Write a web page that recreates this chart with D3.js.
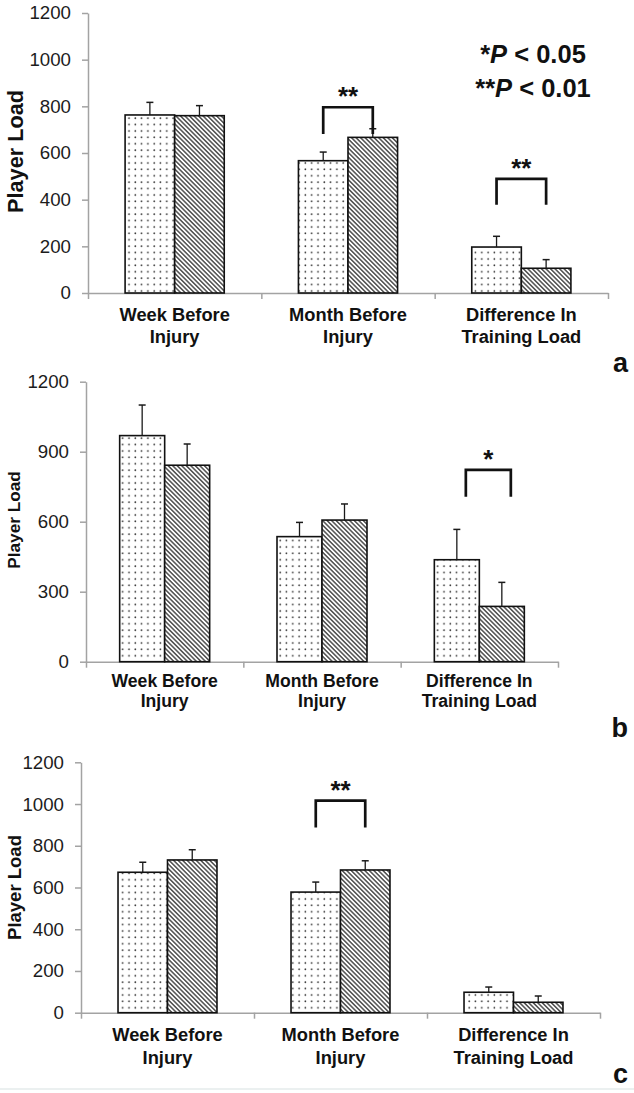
<!DOCTYPE html>
<html>
<head>
<meta charset="utf-8">
<script src="https://cdn.jsdelivr.net/npm/d3@7"></script>
<style>
  html, body { margin: 0; padding: 0; background: #fff; }
  svg { display: block; }
</style>
</head>
<body>
<svg id="chart" width="634" height="1093"></svg>
<script>
// ---------------- DATA ----------------
const catLine1 = ["Week Before", "Month Before", "Difference In"];
const catLine2 = ["Injury", "Injury", "Training Load"];
const seriesNames = ["dotted", "hatched"];

// Panel a
const aDotted = [763, 567, 197];
const aDottedErr = [54, 37, 46];
const aHatched = [760, 667, 106];
const aHatchedErr = [43, 37, 37];
const aTicks = [0, 200, 400, 600, 800, 1000, 1200];
const aSigCat = [1, 2];
const aSigLabel = ["**", "**"];
const aSigTop = [796, 489];
const aSigBottom = [681, 378];

// Panel b
const bDotted = [969, 536, 437];
const bDottedErr = [131, 61, 130];
const bHatched = [842, 607, 237];
const bHatchedErr = [91, 69, 103];
const bTicks = [0, 300, 600, 900, 1200];
const bSigCat = [2];
const bSigLabel = ["*"];
const bSigTop = [822];
const bSigBottom = [707];

// Panel c
const cDotted = [673, 578, 98];
const cDottedErr = [48, 48, 25];
const cHatched = [732, 684, 50];
const cHatchedErr = [49, 44, 30];
const cTicks = [0, 200, 400, 600, 800, 1000, 1200];
const cSigCat = [1];
const cSigLabel = ["**"];
const cSigTop = [1016];
const cSigBottom = [887];

const yLabel = "Player Load";
const legendLines = [["*", "P", " < 0.05"], ["**", "P", " < 0.01"]];
const panelLetters = ["a", "b", "c"];

// ---------------- LAYOUT / STYLE ----------------
const FONT = "'Liberation Sans', Arial, Helvetica, sans-serif";
const panels = [
  { dotted: aDotted, dErr: aDottedErr, hatched: aHatched, hErr: aHatchedErr, ticks: aTicks,
    sigCat: aSigCat, sigLabel: aSigLabel, sigTop: aSigTop, sigBottom: aSigBottom,
    x0: 88, x1: 608, yTop: 13, yBot: 293, ylabFont: 21.7, ylabX: 22.5, ylabShift: -1.5,
    catFont: 18.3, catBase: [320.7, 343.3], letterBase: 372, letter: panelLetters[0], bracketShift: 0, legend: true },
  { dotted: bDotted, dErr: bDottedErr, hatched: bHatched, hErr: bHatchedErr, ticks: bTicks,
    sigCat: bSigCat, sigLabel: bSigLabel, sigTop: bSigTop, sigBottom: bSigBottom,
    x0: 86, x1: 558, yTop: 381.7, yBot: 661.7, ylabFont: 17.2, ylabX: 19.5, ylabShift: -1.7,
    catFont: 17.6, catBase: [686.5, 707], letterBase: 737, letter: panelLetters[1], bracketShift: 9, legend: false },
  { dotted: cDotted, dErr: cDottedErr, hatched: cHatched, hErr: cHatchedErr, ticks: cTicks,
    sigCat: cSigCat, sigLabel: cSigLabel, sigTop: cSigTop, sigBottom: cSigBottom,
    x0: 81, x1: 600, yTop: 762.3, yBot: 1012.7, ylabFont: 18.5, ylabX: 20.5, ylabShift: 0,
    catFont: 18.3, catBase: [1040.7, 1064], letterBase: 1083, letter: panelLetters[2], bracketShift: 0, legend: false }
];

const svg = d3.select("#chart");

// patterns
const defs = svg.append("defs");
const dots = defs.append("pattern").attr("id", "dots")
  .attr("patternUnits", "userSpaceOnUse").attr("width", 6.3).attr("height", 6.4);
dots.append("rect").attr("width", 6.3).attr("height", 6.4).attr("fill", "#fff");
dots.append("circle").attr("cx", 3).attr("cy", 3).attr("r", 0.85).attr("fill", "#2e2e2e");

const hatch = defs.append("pattern").attr("id", "hatch")
  .attr("patternUnits", "userSpaceOnUse").attr("width", 3.2).attr("height", 10)
  .attr("patternTransform", "rotate(-45)");
hatch.append("rect").attr("width", 3.2).attr("height", 10).attr("fill", "#fff");
hatch.append("rect").attr("width", 1.6).attr("height", 10).attr("fill", "#5a5a5a");

const fills = { dotted: "url(#dots)", hatched: "url(#hatch)" };

panels.forEach(p => {
  const g = svg.append("g");
  const y = d3.scaleLinear().domain([0, 1200]).range([p.yBot, p.yTop]);
  const x = d3.scaleBand().domain(catLine1).range([p.x0, p.x1]).paddingInner(0).paddingOuter(0);
  const bw = x.bandwidth();
  const inner = d3.scaleBand().domain(seriesNames)
    .range([bw * (0.5 - 0.286), bw * (0.5 + 0.286)]).padding(0);

  // y axis
  const yAxis = g.append("g").attr("transform", `translate(${p.x0},0)`)
    .call(d3.axisLeft(y).tickValues(p.ticks).tickFormat(d3.format("d"))
      .tickSize(6).tickSizeOuter(0).tickPadding(11));
  yAxis.select(".domain").attr("stroke", "#a3a3a3").attr("stroke-width", 1.5);
  yAxis.selectAll(".tick line").attr("stroke", "#a3a3a3").attr("stroke-width", 1.5);
  yAxis.selectAll(".tick text").attr("font-family", FONT).attr("font-size", 18.7)
    .attr("fill", "#1c1c1c");

  // x axis (category boundaries)
  const xb = d3.scaleLinear().domain([0, 3]).range([p.x0, p.x1]);
  const xAxis = g.append("g").attr("transform", `translate(0,${p.yBot})`)
    .call(d3.axisBottom(xb).tickValues([0, 1, 2, 3]).tickFormat("").tickSize(6).tickSizeOuter(0));
  xAxis.select(".domain").attr("stroke", "#a3a3a3").attr("stroke-width", 1.5);
  xAxis.selectAll(".tick line").attr("stroke", "#a3a3a3").attr("stroke-width", 1.5);

  // bars
  const rows = [];
  catLine1.forEach((c, i) => {
    rows.push({ cat: c, s: "dotted", v: p.dotted[i], e: p.dErr[i] });
    rows.push({ cat: c, s: "hatched", v: p.hatched[i], e: p.hErr[i] });
  });
  g.selectAll("rect.bar").data(rows).join("rect").attr("class", "bar")
    .attr("x", d => x(d.cat) + inner(d.s))
    .attr("y", d => y(d.v))
    .attr("width", inner.bandwidth())
    .attr("height", d => y(0) - y(d.v))
    .attr("fill", d => fills[d.s])
    .attr("stroke", "#111").attr("stroke-width", 1.6);

  // error bars
  const cx = d => x(d.cat) + inner(d.s) + inner.bandwidth() / 2;
  g.selectAll("line.err").data(rows).join("line").attr("class", "err")
    .attr("x1", cx).attr("x2", cx)
    .attr("y1", d => y(d.v)).attr("y2", d => y(d.v + d.e))
    .attr("stroke", "#1a1a1a").attr("stroke-width", 1.3);
  g.selectAll("line.cap").data(rows).join("line").attr("class", "cap")
    .attr("x1", d => cx(d) - 3.5).attr("x2", d => cx(d) + 3.5)
    .attr("y1", d => y(d.v + d.e)).attr("y2", d => y(d.v + d.e))
    .attr("stroke", "#1a1a1a").attr("stroke-width", 1.5);

  // significance brackets
  p.sigCat.forEach((ci, k) => {
    const c = catLine1[ci];
    const xl = x(c) + inner("dotted") + inner.bandwidth() / 2 + p.bracketShift;
    const xr = x(c) + inner("hatched") + inner.bandwidth() / 2 + p.bracketShift;
    const yt = y(p.sigTop[k]), yb = y(p.sigBottom[k]);
    g.append("path")
      .attr("d", d3.line()([[xl, yb], [xl, yt], [xr, yt], [xr, yb]]))
      .attr("fill", "none").attr("stroke", "#111").attr("stroke-width", 2.7)
      .attr("stroke-linejoin", "miter");
    g.append("text").attr("x", (xl + xr) / 2).attr("y", yt - 2)
      .attr("text-anchor", "middle").attr("font-family", FONT).attr("font-weight", "bold")
      .attr("font-size", 26).attr("fill", "#111").text(p.sigLabel[k]);
  });

  // category labels
  catLine1.forEach((c, i) => {
    const t = g.append("text").attr("text-anchor", "middle").attr("font-family", FONT)
      .attr("font-weight", "bold").attr("font-size", p.catFont).attr("fill", "#111");
    t.append("tspan").attr("x", x(c) + bw / 2).attr("y", p.catBase[0]).text(c);
    t.append("tspan").attr("x", x(c) + bw / 2).attr("y", p.catBase[1]).text(catLine2[i]);
  });

  // y label
  g.append("text")
    .attr("transform", `translate(${p.ylabX},${(p.yTop + p.yBot) / 2 + p.ylabShift}) rotate(-90)`)
    .attr("text-anchor", "middle").attr("font-family", FONT).attr("font-weight", "bold")
    .attr("font-size", p.ylabFont).attr("fill", "#111").text(yLabel);

  // panel letter
  svg.append("text").attr("x", 628).attr("y", p.letterBase).attr("text-anchor", "end")
    .attr("font-family", FONT).attr("font-weight", "bold").attr("font-size", 27)
    .attr("fill", "#111").text(p.letter);

  // legend
  if (p.legend) {
    const lb = [63.3, 97.3];
    legendLines.forEach((parts, i) => {
      const t = svg.append("text").attr("x", 533).attr("y", lb[i]).attr("text-anchor", "middle")
        .attr("font-family", FONT).attr("font-weight", "bold").attr("font-size", 25.5)
        .attr("fill", "#111");
      t.append("tspan").text(parts[0]);
      t.append("tspan").attr("font-style", "italic").text(parts[1]);
      t.append("tspan").text(parts[2]);
    });
  }
});

// faint bottom rule
svg.append("line").attr("x1", 0).attr("x2", 634).attr("y1", 1089).attr("y2", 1089)
  .attr("stroke", "#e4ebeb").attr("stroke-width", 1.5);
</script>
</body>
</html>
